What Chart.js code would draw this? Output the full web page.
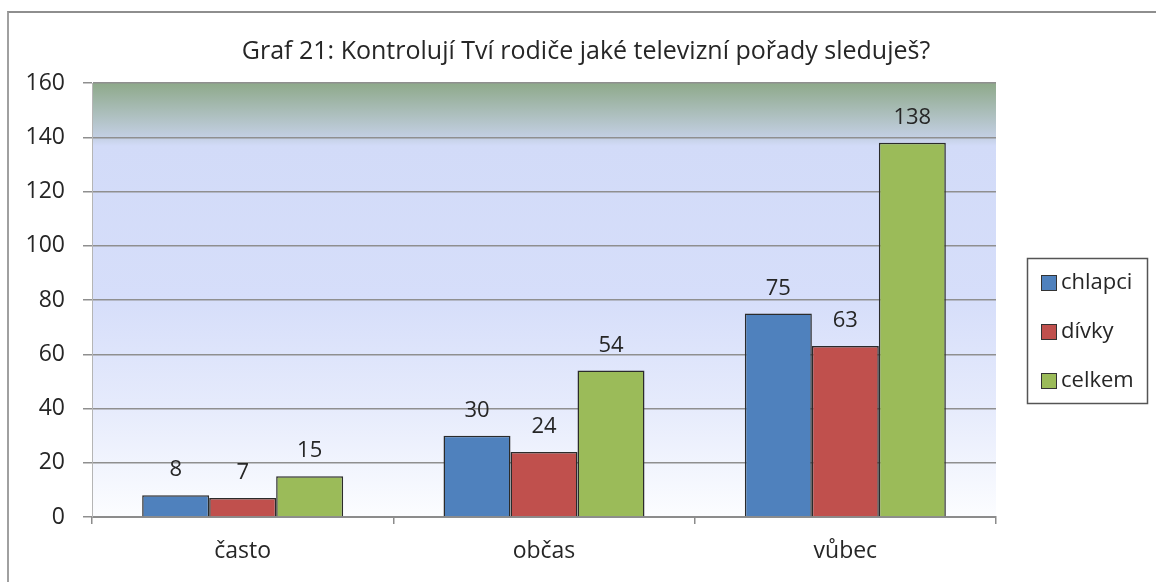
<!DOCTYPE html>
<html>
<head>
<meta charset="utf-8">
<script src="https://cdn.jsdelivr.net/npm/chart.js@4.4.0/dist/chart.umd.min.js"></script>
<style>
  html, body { margin: 0; padding: 0; background: #fff; }
  #wrap { position: relative; width: 1156px; height: 582px; }
  #frame {
    position: absolute; left: 7px; top: 11px; right: 0; bottom: 0;
    border-top: 2px solid #8e8e8e; border-left: 2px solid #a0a0a0;
    pointer-events: none;
  }
</style>
</head>
<body>
<div id="wrap">
  <canvas id="graf" width="1156" height="582"></canvas>
  <div id="frame"></div>
</div>
<script>
// data
var TITLE = 'Graf 21: Kontrolují Tví rodiče jaké televizní pořady sleduješ?';
var categories = ['často', 'občas', 'vůbec'];
var seriesNames = ['chlapci', 'dívky', 'celkem'];
var chlapci = [8, 30, 75];
var divky   = [7, 24, 63];
var celkem  = [15, 54, 138];
var yTicks  = [0, 20, 40, 60, 80, 100, 120, 140, 160];

var COLORS = ['#4F81BD', '#C0504D', '#9BBB59'];
var FONT = "'Open Sans', 'Noto Sans', sans-serif";
var TEXT = '#262626';

// plot area background gradient (Excel 2007 style)
var bgPlugin = {
  id: 'bgGradient',
  beforeDraw: function(chart) {
    var a = chart.chartArea, c = chart.ctx;
    var g = c.createLinearGradient(0, a.top, 0, a.bottom);
    g.addColorStop(0, '#8ea98a');
    g.addColorStop(0.125, '#c3cfe3');
    g.addColorStop(0.145, '#d2dbf8');
    g.addColorStop(0.5, '#d6defa');
    g.addColorStop(0.75, '#e6ebfc');
    g.addColorStop(1, '#fcfdff');
    c.save();
    c.fillStyle = g;
    c.fillRect(a.left, a.top, a.right - a.left, a.bottom - a.top);
    c.restore();
  }
};

// title, value labels and legend box
var extrasPlugin = {
  id: 'extras',
  afterDatasetsDraw: function(chart) {
    var c = chart.ctx;
    c.save();
    c.fillStyle = TEXT;
    c.font = '22px ' + FONT;
    c.textAlign = 'center';
    c.textBaseline = 'alphabetic';
    chart.data.datasets.forEach(function(ds, i) {
      chart.getDatasetMeta(i).data.forEach(function(bar, j) {
        c.fillText(String(ds.data[j]), bar.x, bar.y - 19);
      });
    });
    c.restore();
  },
  afterDraw: function(chart) {
    var c = chart.ctx;
    c.save();
    c.fillStyle = TEXT;
    c.font = '25px ' + FONT;
    c.textAlign = 'center';
    c.textBaseline = 'middle';
    c.fillText(TITLE, 586, 52);

    // legend
    c.strokeStyle = '#555';
    c.lineWidth = 1.5;
    c.strokeRect(1027.5, 258.5, 120, 145);
    c.font = '22px ' + FONT;
    c.textAlign = 'left';
    chart.data.datasets.forEach(function(ds, i) {
      var y = 283 + i * 49;
      c.fillStyle = ds.backgroundColor;
      c.fillRect(1041, y - 8, 16, 16);
      c.strokeStyle = '#333';
      c.lineWidth = 1;
      c.strokeRect(1041.5, y - 7.5, 15, 15);
      c.fillStyle = TEXT;
      c.fillText(ds.label, 1061, y);
    });
    c.restore();
  }
};

var datasets = [chlapci, divky, celkem].map(function(vals, i) {
  return {
    label: seriesNames[i],
    data: vals,
    backgroundColor: COLORS[i],
    borderColor: '#2b2b2b',
    borderWidth: 1.5,
    barPercentage: 1.0,
    categoryPercentage: 0.667
  };
});

new Chart(document.getElementById('graf'), {
  type: 'bar',
  data: { labels: categories, datasets: datasets },
  plugins: [bgPlugin, extrasPlugin],
  options: {
    responsive: false,
    animation: false,
    layout: { padding: { left: 0, right: 160, top: 83, bottom: 0 } },
    plugins: {
      legend: { display: false },
      title: { display: false },
      tooltip: { enabled: false }
    },
    scales: {
      x: {
        grid: {
          offset: true,
          drawOnChartArea: false,
          color: '#8c8c8c',
          tickLength: 7,
          lineWidth: 1.5
        },
        border: { color: '#8c8c8c', width: 2 },
        ticks: { color: TEXT, font: { family: FONT, size: 23 }, padding: 14 },
        afterFit: function(s) { s.height = 65; }
      },
      y: {
        min: 0,
        max: 160,
        afterBuildTicks: function(s) {
          s.ticks = yTicks.map(function(v) { return { value: v }; });
        },
        grid: { color: '#8f8f8f', lineWidth: 1.5, tickLength: 9 },
        border: { color: '#b5b5b5', width: 1 },
        ticks: { color: TEXT, font: { family: FONT, size: 23 }, padding: 18 },
        afterFit: function(s) { s.width = 92; }
      }
    }
  }
});
</script>
</body>
</html>
